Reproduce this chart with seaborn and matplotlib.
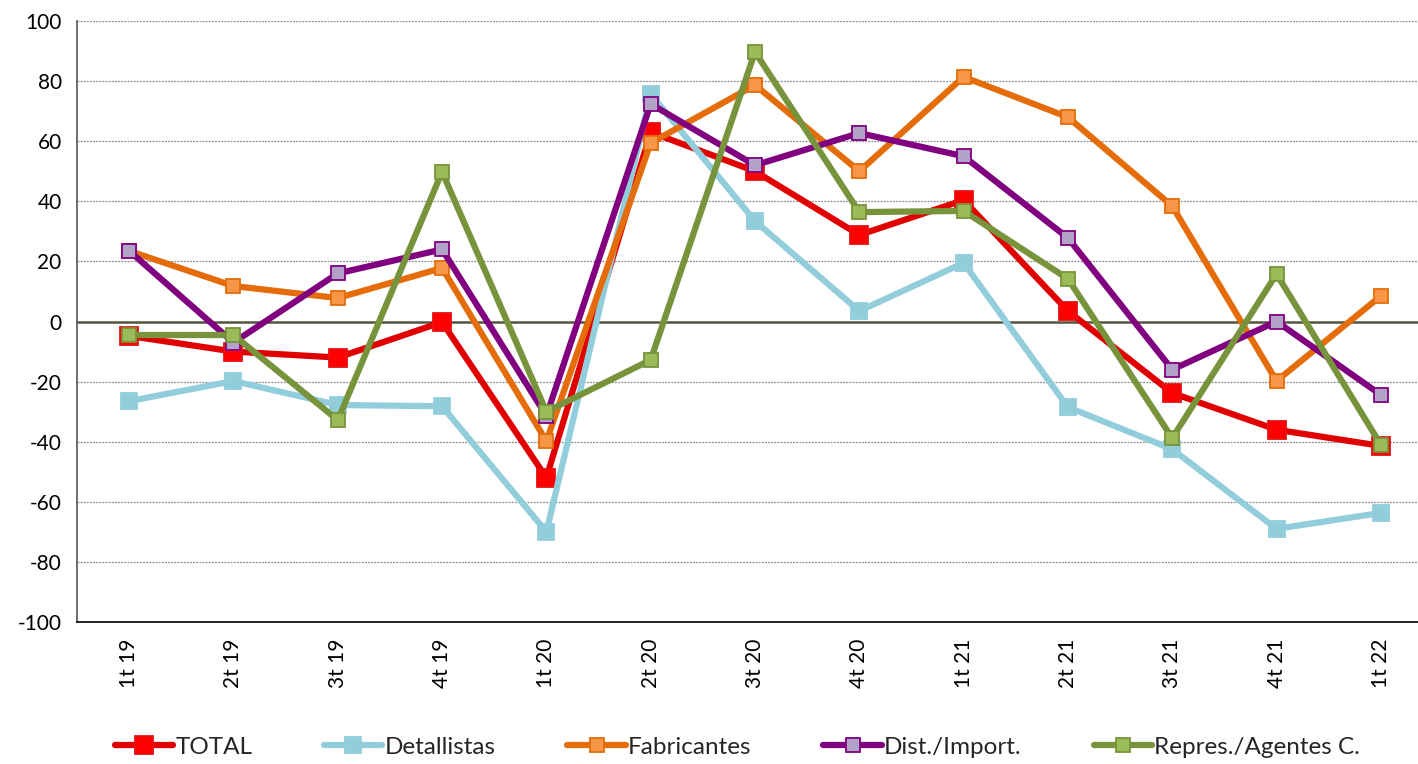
import matplotlib
matplotlib.use("Agg")
import matplotlib.pyplot as plt
from matplotlib.lines import Line2D
import seaborn as sns
import pandas as pd

quarters = ["1t 19", "2t 19", "3t 19", "4t 19", "1t 20", "2t 20", "3t 20",
            "4t 20", "1t 21", "2t 21", "3t 21", "4t 21", "1t 22"]

total = [-4.8, -10, -12, -0.2, -52, 63, 50, 28.8, 40.4, 3.5, -23.8, -36, -41.4]
detallistas = [-26.5, -19.8, -27.8, -28.2, -70, 75.7, 33.4, 3.5, 19.5, -28.5, -42.5, -69, -63.7]
fabricantes = [23.5, 11.8, 7.8, 17.8, -39.8, 59.4, 78.7, 50, 81.4, 68, 38.4, -19.8, 8.5]
dist_import = [23.5, -7, 16, 24, -31.4, 72.4, 52, 62.7, 55, 27.8, -16, 0, -24.4]
repres = [-4.5, -4.5, -32.8, 49.8, -30, -12.8, 89.7, 36.4, 36.8, 14.2, -38.8, 15.8, -41]

series_names = ["TOTAL", "Detallistas", "Fabricantes", "Dist./Import.", "Repres./Agentes C."]
series_values = [total, detallistas, fabricantes, dist_import, repres]

# line colour, marker face, marker edge, marker size
styles = {
    "TOTAL": ("#E00000", "#FF0000", "#E81010", 12.5),
    "Detallistas": ("#92CDDC", "#92CDDC", "#92CDDC", 11.5),
    "Fabricantes": ("#E46C0A", "#F79646", "#E46C0A", 10.5),
    "Dist./Import.": ("#800080", "#B3A2C7", "#800080", 10.5),
    "Repres./Agentes C.": ("#77933C", "#9BBB59", "#77933C", 10.5),
}

sns.set_theme(style="white")
plt.rcParams['font.family'] = ['Lato', 'DejaVu Sans']

fig = plt.figure(figsize=(14.18, 7.64), dpi=100)
ax = fig.add_axes([77 / 1418, 142 / 764, 1356 / 1418, 601 / 764])

x = list(range(len(quarters)))
handles = []
for name, vals in zip(series_names, series_values):
    lc, fc, ec, ms = styles[name]
    df = pd.DataFrame({"x": x, "y": vals})
    sns.lineplot(data=df, x="x", y="y", ax=ax, color=lc, linewidth=4.5,
                 marker="s", markersize=ms, markerfacecolor=fc,
                 markeredgecolor=ec, markeredgewidth=1.3, sort=False, zorder=3)
    handles.append(Line2D([], [], color=lc, linewidth=4.5, marker="s",
                          markersize=ms, markerfacecolor=fc,
                          markeredgecolor=ec, markeredgewidth=1.3))

ax.set_xlim(-0.5, len(quarters) - 0.5)
ax.set_ylim(-100, 100)
ax.set_yticks(range(-100, 101, 20))
ax.set_yticklabels([str(v) for v in range(-100, 101, 20)], fontsize=15)

ax.set_xticks(x)
ax.set_xticklabels(quarters, rotation=90, fontsize=15)
ax.set_xticks([i - 0.5 for i in range(len(quarters) + 1)], minor=True)
ax.tick_params(axis="x", which="major", length=0, pad=12)
ax.tick_params(axis="x", which="minor", length=7, width=1, color="black", direction="out")
ax.tick_params(axis="y", length=7, width=1, color="black", direction="out", pad=4)
ax.tick_params(colors="black")

for v in range(-80, 101, 20):
    if v != 0:
        ax.axhline(v, color="#8a8a8a", linewidth=0.9, linestyle=(0, (1.5, 1)), zorder=1)
ax.axhline(0, color="#55553f", linewidth=1.8, zorder=2)

for side in ["top", "right"]:
    ax.spines[side].set_visible(False)
ax.spines["left"].set_color("#555555")
ax.spines["left"].set_linewidth(1.2)
ax.spines["bottom"].set_color("black")
ax.spines["bottom"].set_linewidth(1.2)
ax.set_xlabel("")
ax.set_ylabel("")

fig.legend(handles, series_names, loc="center", bbox_to_anchor=(0.52, 0.022),
           ncol=5, frameon=False, fontsize=17.5, handlelength=2.4,
           handletextpad=0.1, columnspacing=2.95)

fig.savefig("out.png", dpi=100)
